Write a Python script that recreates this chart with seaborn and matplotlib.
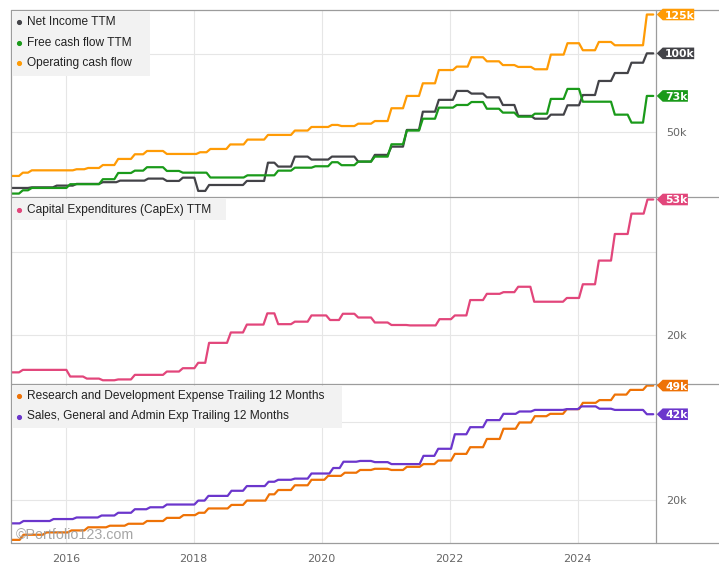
import matplotlib
matplotlib.use("Agg")
import matplotlib.pyplot as plt
import seaborn as sns
import pandas as pd
from matplotlib.patches import Rectangle, Polygon
from matplotlib.lines import Line2D
from matplotlib.transforms import IdentityTransform

# ---------------- data (values in thousands, dates in decimal years) ----------------
NI_DATES = [2015.15, 2015.47, 2015.86, 2016.17, 2016.58, 2016.85, 2017.29, 2017.58, 2017.83,
            2018.07, 2018.24, 2018.83, 2019.16, 2019.32, 2019.58, 2019.84, 2020.16, 2020.57,
            2020.83, 2021.09, 2021.33, 2021.58, 2021.83, 2022.11, 2022.34, 2022.58, 2022.83,
            2023.07, 2023.33, 2023.58, 2023.84, 2024.08, 2024.33, 2024.58, 2024.84, 2025.08]
NI_VALUES = [14.1, 14.5, 15.6, 16.7, 17.8, 18.8, 20.1, 18.6, 20.7,
             12.2, 16.0, 18.6, 30.3, 27.8, 34.2, 32.3, 34.2, 31.0,
             35.3, 40.6, 51.3, 63.0, 70.6, 76.3, 74.6, 72.2, 67.3,
             60.3, 58.5, 61.1, 67.1, 73.7, 82.7, 87.8, 94.4, 100.4]

FCF_DATES = [2015.15, 2015.33, 2015.47, 2016.07, 2016.58, 2016.82, 2017.08, 2017.27, 2017.58,
             2017.83, 2018.26, 2018.84, 2019.32, 2019.58, 2019.90, 2020.16, 2020.31, 2020.57,
             2020.83, 2021.09, 2021.33, 2021.58, 2021.83, 2022.11, 2022.34, 2022.58, 2022.83,
             2023.07, 2023.33, 2023.58, 2023.84, 2024.08, 2024.58, 2024.84, 2025.08]
FCF_VALUES = [10.5, 12.6, 14.1, 16.5, 19.7, 23.7, 25.2, 27.4, 25.0,
              23.9, 20.8, 22.2, 25.2, 27.1, 28.0, 30.6, 28.7, 31.0,
              34.2, 42.1, 50.9, 58.5, 65.6, 67.3, 69.2, 64.9, 62.4,
              59.8, 61.7, 71.2, 77.6, 69.4, 61.1, 56.0, 73.1]

OCF_DATES = [2015.15, 2015.33, 2015.47, 2016.17, 2016.35, 2016.58, 2016.82, 2017.08, 2017.27,
             2017.58, 2018.10, 2018.26, 2018.57, 2018.84, 2019.16, 2019.58, 2019.84, 2020.16,
             2020.31, 2020.57, 2020.83, 2021.09, 2021.33, 2021.58, 2021.83, 2022.11, 2022.34,
             2022.58, 2022.83, 2023.07, 2023.33, 2023.58, 2023.84, 2024.08, 2024.33, 2024.58,
             2025.08]
OCF_VALUES = [21.8, 23.9, 25.4, 26.1, 26.9, 28.8, 32.7, 35.7, 37.8,
              35.9, 37.0, 39.1, 42.0, 45.1, 48.1, 50.9, 53.2, 54.5,
              53.8, 55.3, 57.0, 65.2, 73.1, 81.2, 89.7, 91.9, 97.9,
              95.3, 92.9, 91.7, 90.2, 99.6, 106.9, 102.4, 107.7, 105.6,
              125.3]

CAPEX_DATES = [2015.15, 2015.33, 2016.07, 2016.33, 2016.58, 2016.82, 2017.08, 2017.58, 2017.83,
               2018.07, 2018.24, 2018.58, 2018.83, 2019.15, 2019.32, 2019.58, 2019.84, 2020.13,
               2020.33, 2020.57, 2020.83, 2021.09, 2021.38, 2021.84, 2022.08, 2022.32, 2022.58,
               2022.84, 2023.07, 2023.32, 2023.83, 2024.08, 2024.33, 2024.58, 2024.84, 2025.09]
CAPEX_VALUES = [11.0, 11.6, 10.0, 9.5, 9.1, 9.3, 10.4, 11.2, 12.0,
                13.3, 18.1, 20.6, 22.5, 25.2, 22.6, 23.2, 24.7, 23.6,
                25.1, 24.2, 23.0, 22.4, 22.3, 23.8, 24.7, 28.4, 29.9,
                30.3, 31.6, 28.0, 28.9, 32.2, 37.9, 44.3, 49.2, 52.6]

RD_DATES = [2015.15, 2015.34, 2015.70, 2016.09, 2016.35, 2016.69, 2016.98, 2017.27, 2017.58,
            2017.84, 2018.08, 2018.23, 2018.59, 2018.83, 2019.18, 2019.32, 2019.58, 2019.84,
            2020.10, 2020.36, 2020.60, 2020.83, 2021.09, 2021.33, 2021.59, 2021.82, 2022.08,
            2022.32, 2022.58, 2022.84, 2023.09, 2023.33, 2023.57, 2023.83, 2024.08, 2024.34,
            2024.58, 2024.82, 2025.08]
RD_VALUES = [9.9, 11.2, 11.8, 12.3, 13.1, 13.5, 14.0, 14.7, 15.5,
             16.2, 16.8, 17.9, 18.8, 19.9, 21.5, 22.6, 23.8, 25.2,
             26.2, 27.0, 27.7, 28.0, 27.7, 28.5, 29.2, 30.1, 31.8,
             33.5, 35.6, 38.2, 39.8, 41.4, 42.0, 43.2, 44.8, 45.5,
             46.9, 48.1, 49.2]

SGA_DATES = [2015.15, 2015.34, 2015.81, 2016.17, 2016.56, 2016.82, 2017.08, 2017.32, 2017.58,
             2018.07, 2018.23, 2018.59, 2018.83, 2019.17, 2019.32, 2019.58, 2019.84, 2020.18,
             2020.34, 2020.60, 2020.83, 2021.09, 2021.59, 2021.82, 2022.08, 2022.32, 2022.58,
             2022.84, 2023.09, 2023.33, 2023.83, 2024.06, 2024.34, 2024.58, 2025.08]
SGA_VALUES = [14.1, 14.7, 15.2, 15.6, 16.1, 16.8, 17.7, 18.2, 18.9,
              19.9, 21.1, 22.4, 23.6, 24.7, 25.2, 25.5, 26.8, 28.2,
              29.8, 30.0, 29.7, 29.2, 31.3, 33.1, 36.8, 38.6, 40.4,
              42.0, 42.6, 43.0, 43.2, 43.9, 43.3, 43.0, 41.9]

LAST_DATE = 2025.18
X_RANGE = (2015.145, 2025.223)
YEAR_TICKS = [2016, 2018, 2020, 2022, 2024]
YEAR_LABELS = ["2016", "2018", "2020", "2022", "2024"]

TOP_LABELS = ["Net Income TTM", "Free cash flow TTM", "Operating cash flow"]
MID_LABELS = ["Capital Expenditures (CapEx) TTM"]
BOT_LABELS = ["Research and Development Expense Trailing 12 Months",
              "Sales, General and Admin Exp Trailing 12 Months"]

C_NI, C_FCF, C_OCF = "#434348", "#1a9a1a", "#ff9b05"
C_CAPEX = "#e2467b"
C_RD, C_SGA = "#ee7206", "#6b36cc"

# ---------------- figure ----------------
sns.set_theme(style="white")
plt.rcParams["font.family"] = ["Liberation Sans", "DejaVu Sans"]

W, H = 719, 571
fig = plt.figure(figsize=(W / 100, H / 100), dpi=100)
fig.patch.set_facecolor("white")

X0, X1 = 11, 656
BORDER = "#9c9c9c"
GRID = "#e6e6e6"


def add_axes(y_top, y_bot):
    return fig.add_axes([X0 / W, 1 - y_bot / H, (X1 - X0) / W, (y_bot - y_top) / H])


def step_points(dates, values, ramp=0.06):
    xs, ys = [], []
    for i, (d, v) in enumerate(zip(dates, values)):
        end = dates[i + 1] - ramp if i + 1 < len(dates) else LAST_DATE
        xs += [d, end]
        ys += [v, v]
    return pd.DataFrame({"date": xs, "value": ys})


panels = [
    dict(top=10, bot=197, ylim=(8.3, 128.2), yticks=[50, 100], ylabels=["50k", ""],
         series=[(NI_DATES, NI_VALUES, C_NI), (FCF_DATES, FCF_VALUES, C_FCF),
                 (OCF_DATES, OCF_VALUES, C_OCF)],
         labels=TOP_LABELS, lbox=(11.5, 11.5, 150, 76), ly=[22, 43, 63]),
    dict(top=197, bot=384, ylim=(8.2, 53.2), yticks=[20, 40], ylabels=["20k", ""],
         series=[(CAPEX_DATES, CAPEX_VALUES, C_CAPEX)],
         labels=MID_LABELS, lbox=(11.5, 199, 226, 220), ly=[209.5]),
    dict(top=384, bot=543, ylim=(9.1, 49.6), yticks=[20, 40], ylabels=["20k", ""],
         series=[(RD_DATES, RD_VALUES, C_RD), (SGA_DATES, SGA_VALUES, C_SGA)],
         labels=BOT_LABELS, lbox=(11.5, 386, 342, 428), ly=[396, 416.5]),
]

axes = []
for i, p in enumerate(panels):
    ax = add_axes(p["top"], p["bot"])
    axes.append(ax)
    ax.set_facecolor("white")
    for dates, values, color in p["series"]:
        df = step_points(dates, values)
        sns.lineplot(data=df, x="date", y="value", ax=ax, color=color, linewidth=1.6,
                     estimator=None, sort=False, legend=False)
    ax.set_xlim(*X_RANGE)
    ax.set_ylim(*p["ylim"])
    ax.set_xlabel("")
    ax.set_ylabel("")
    for s in ax.spines.values():
        s.set_visible(False)
    ax.set_axisbelow(True)
    ax.grid(True, color=GRID, linewidth=0.8)
    ax.set_xticks(YEAR_TICKS)
    ax.yaxis.tick_right()
    ax.set_yticks(p["yticks"])
    ax.set_yticklabels(p["ylabels"], fontfamily="DejaVu Sans")
    ax.tick_params(axis="y", length=0, pad=7.2, labelsize=8, labelcolor="#666666")
    ax.tick_params(axis="x", length=0, pad=8, labelsize=8, labelcolor="#666666")
    if i < 2:
        ax.tick_params(axis="x", labelbottom=False)
    else:
        ax.set_xticklabels(YEAR_LABELS, fontfamily="DejaVu Sans")

    # legend box
    bx0, by0, bx1, by1 = p["lbox"]
    fig.add_artist(Rectangle((bx0 / W, 1 - by1 / H), (bx1 - bx0) / W, (by1 - by0) / H,
                             transform=fig.transFigure, facecolor="#f2f2f2",
                             edgecolor="none", zorder=4))
    for (dates, values, color), lab, yy in zip(p["series"], p["labels"], p["ly"]):
        fig.add_artist(Line2D([19.3 / W], [1 - yy / H], transform=fig.transFigure,
                              marker="o", markersize=2.7, color=color, linestyle="none",
                              zorder=5))
        fig.text(27 / W, 1 - yy / H, lab, ha="left", va="center", fontsize=8.6,
                 color="#222222", zorder=5)

# frame lines
for yy in [10, 197, 384, 543]:
    fig.add_artist(Line2D([X0 / W, 1.0], [1 - yy / H, 1 - yy / H], transform=fig.transFigure,
                          color=BORDER, linewidth=0.9, zorder=3))
for xx in [X0, X1]:
    fig.add_artist(Line2D([xx / W, xx / W], [1 - 10 / H, 1 - 543 / H], transform=fig.transFigure,
                          color=BORDER, linewidth=0.9, zorder=3))

# value flags at the right edge
for ax, p in zip(axes, panels):
    for dates, values, color in p["series"]:
        v = values[-1]
        yd = ax.transData.transform((LAST_DATE, v))[1]
        lab = f"{round(v)}k"
        xa = X1 + 0.7
        xe = 669 + 6.3 * len(lab)
        hh = 5.8
        poly = Polygon([(xa, yd), (xa + 6, yd + hh), (xe, yd + hh), (xe, yd - hh), (xa + 6, yd - hh)],
                       closed=True, transform=IdentityTransform(), facecolor=color,
                       edgecolor="none", zorder=6)
        fig.add_artist(poly)
        fig.text(665, yd, lab, transform=IdentityTransform(), ha="left", va="center_baseline",
                 fontsize=7.8, fontweight="bold", color="white", fontfamily="DejaVu Sans",
                 zorder=7)

# watermark
fig.text(16 / W, 1 - 539 / H, "©Portfolio123.com", ha="left", va="baseline", fontsize=10.3,
         color="#9c9c9c", alpha=0.9, zorder=6)

fig.savefig("out.png", dpi=100, facecolor="white")
